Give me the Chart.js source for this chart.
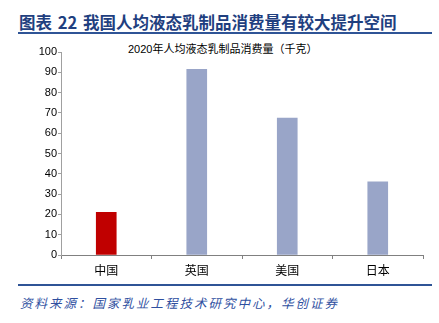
<!DOCTYPE html>
<html>
<head>
<meta charset="utf-8">
<script src="https://cdn.jsdelivr.net/npm/chart.js@4/dist/chart.umd.min.js"></script>
<style>
  html, body { margin: 0; padding: 0; background: #fff; }
  #wrap { position: relative; width: 439px; height: 323px; overflow: hidden; font-family: "Noto Sans CJK SC", sans-serif; }
  #head {
    position: absolute; left: 19px; top: 10px; font-size: 16.5px; font-weight: bold;
    color: #1F3F7F; white-space: nowrap; word-spacing: 2px;
  }
  .rule { position: absolute; left: 18px; width: 414px; height: 2px; background: #2F5496; }
  #subtitle {
    position: absolute; left: 128px; top: 40px; font-size: 11px; color: #000;
    font-family: "Liberation Sans", "Noto Sans CJK SC", sans-serif; white-space: nowrap;
  }
  #src {
    position: absolute; left: 20px; top: 293px; font-size: 12.5px; font-style: italic;
    color: #2F4F9F; letter-spacing: 2px; white-space: nowrap;
  }
  #box { position: absolute; left: 0; top: 40px; width: 439px; height: 242px; }
</style>
</head>
<body>
<div id="wrap">
  <div id="head">图表 22 我国人均液态乳制品消费量有较大提升空间</div>
  <div class="rule" style="top:32px"></div>
  <div id="subtitle">2020年人均液态乳制品消费量（千克）</div>
  <div id="box"><canvas id="chart"></canvas></div>
  <div class="rule" style="top:284px"></div>
  <div id="src">资料来源：国家乳业工程技术研究中心，华创证券</div>
</div>
<script>
// ── Data ──────────────────────────────────────────────────────────────────────
const countries = ['中国', '英国', '美国', '日本'];
const consumption = [21, 91.5, 67.5, 36];
const barColors = ['#C00000', '#99A5C8', '#99A5C8', '#99A5C8'];
const yTicks = [0, 10, 20, 30, 40, 50, 60, 70, 80, 90, 100];

Chart.defaults.font.family = "'Liberation Sans', 'Noto Sans CJK SC', sans-serif";
Chart.defaults.color = '#000';

const $ = id => document.getElementById(id);

new Chart($('chart'), {
    type: 'bar',
    data: {
        labels: countries,
        datasets: [{
            data: consumption,
            backgroundColor: barColors,
            borderWidth: 0,
            barThickness: 20
        }]
    },
    options: {
        responsive: true, maintainAspectRatio: false,
        animation: false,
        layout: { padding: { top: 12, right: 16, bottom: 0, left: 0 } },
        plugins: { legend: { display: false }, tooltip: { enabled: false } },
        scales: {
            x: {
                grid: { display: true, drawOnChartArea: false, offset: true, tickLength: 4, color: '#808080' },
                border: { color: '#808080', width: 1 },
                ticks: { font: { size: 12, family: "'Noto Sans CJK SC', sans-serif" }, padding: 4 },
                afterFit: s => { s.height = 27; }
            },
            y: {
                min: 0, max: 100,
                afterBuildTicks: s => { s.ticks = yTicks.map(v => ({ value: v })); },
                grid: { display: true, drawOnChartArea: false, tickLength: 3, color: '#A0A0A0' },
                border: { color: '#A0A0A0', width: 1 },
                ticks: { font: { size: 11 }, padding: 1 },
                afterFit: s => { s.width = 61; }
            }
        }
    }
});
</script>
</body>
</html>
